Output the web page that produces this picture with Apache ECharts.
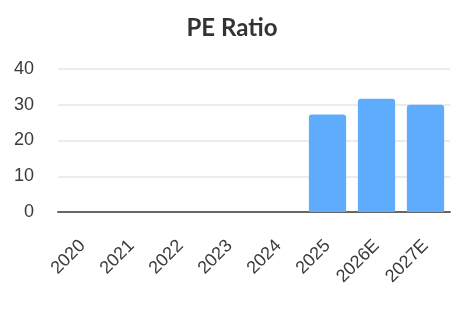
<!DOCTYPE html>
<html><head><meta charset="utf-8">
<script src="https://cdn.jsdelivr.net/npm/echarts@6/dist/echarts.min.js"></script>
<style>html,body{margin:0;padding:0;background:#fff}#c{width:464px;height:313px}</style>
</head><body><div id="c"></div>
<script>
var categories = ['2020','2021','2022','2023','2024','2025','2026E','2027E'];
var peValues = [null,null,null,null,null,27.3,31.7,30.0];
var yTicks = [0,10,20,30,40];

var chart = echarts.init(document.getElementById('c'), null, {renderer:'canvas'});
chart.setOption({
  animation:false,
  title:{text:'PE Ratio',left:'center',top:11,textStyle:{fontFamily:'Lato',fontWeight:'bold',fontSize:24,color:'#333'}},
  grid:{left:58,right:14,top:69,bottom:101},
  xAxis:{type:'category',data:categories,
    axisLine:{lineStyle:{color:'#666',width:2}},
    axisTick:{show:false},
    axisLabel:{rotate:45,margin:31,fontFamily:'Liberation Sans',fontSize:18,color:'#3a3a3a',interval:0}},
  yAxis:{type:'value',min:yTicks[0],max:yTicks[yTicks.length-1],interval:10,
    axisLabel:{fontFamily:'Liberation Sans',fontSize:18,color:'#3a3a3a',margin:24},
    splitLine:{lineStyle:{color:'#e6e6e6',width:1.5}},
    axisLine:{show:false},axisTick:{show:false}},
  series:[{type:'bar',data:peValues,barCategoryGap:'24%',
    itemStyle:{color:'#60acfc',borderRadius:[3,3,0,0]}}]
});
</script></body></html>
